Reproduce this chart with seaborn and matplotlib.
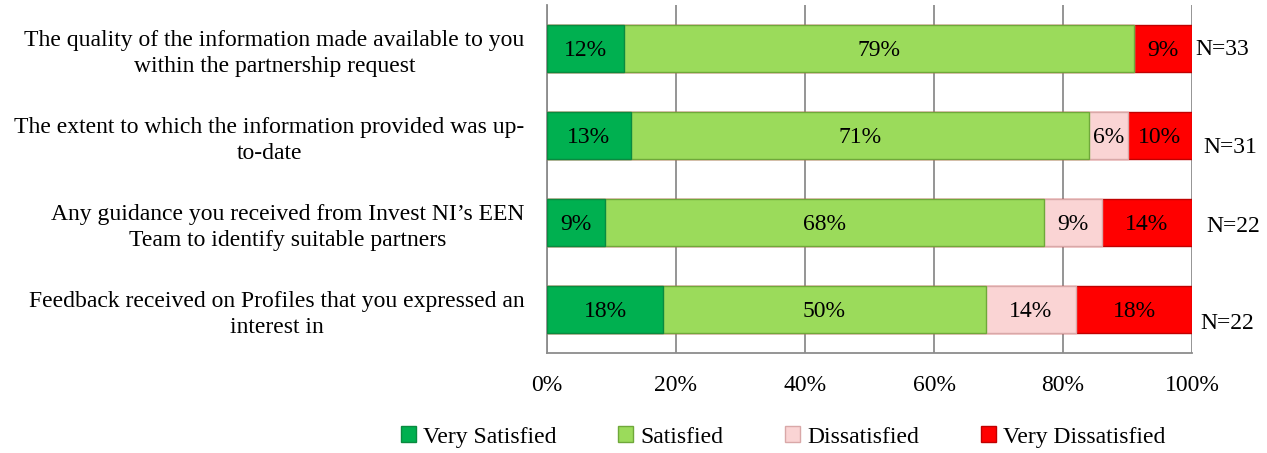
import matplotlib
matplotlib.use('Agg')
import matplotlib.pyplot as plt
import numpy as np
import pandas as pd
import seaborn as sns

# data
items = ['The quality of the information made available to you\nwithin the partnership request',
         'The extent to which the information provided was up-\nto-date',
         'Any guidance you received from Invest NI\u2019s EEN\nTeam to identify suitable partners',
         'Feedback received on Profiles that you expressed an\ninterest in']
series = ['Very Satisfied', 'Satisfied', 'Dissatisfied', 'Very Dissatisfied']
very_satisfied = [12, 13, 9, 18]
satisfied = [79, 71, 68, 50]
dissatisfied = [0, 6, 9, 14]
very_dissatisfied = [9, 10, 14, 18]
n_resp = [33, 31, 22, 22]
xticks = [0, 20, 40, 60, 80, 100]

colors = ['#00B050', '#9BDB5B', '#FAD4D4', '#FF0000']
edges = ['#0A8A40', '#6FA83A', '#D9A8A8', '#C00000']

sns.set_theme(style='white')
plt.rcParams['font.family'] = ['Liberation Serif', 'DejaVu Serif']
plt.rcParams['text.color'] = 'black'
plt.rcParams['xtick.color'] = 'black'
plt.rcParams['ytick.color'] = 'black'

df = pd.DataFrame({'item': items,
                   'Very Satisfied': very_satisfied,
                   'Satisfied': satisfied,
                   'Dissatisfied': dissatisfied,
                   'Very Dissatisfied': very_dissatisfied})
cum = df[series].cumsum(axis=1)

fig = plt.figure(figsize=(12.67, 4.53), dpi=100)
ax = fig.add_axes([0.4317, 0.2208, 0.5092, 0.7682])

# stacked bars: draw cumulative totals from the right, each covering the previous
for s, c, e in reversed(list(zip(series, colors, edges))):
    sns.barplot(x=cum[s], y=df['item'], orient='h', color=c, width=0.55,
                edgecolor=e, linewidth=1.0, saturation=1, ax=ax, zorder=3)

fs = 17
# value labels in the middle of each segment
for i in range(len(items)):
    left = 0
    for s in series:
        v = df[s].iloc[i]
        if v > 0:
            ax.text(left + v / 2, i, f'{v}%', ha='center', va='center_baseline',
                    fontsize=fs, color='black', zorder=5)
        left += v

# N= annotations right of the bars
n_offsets = [(2, 1), (8, -7), (10, -1), (6, -8)]
for i, n in enumerate(n_resp):
    ax.annotate(f'N={n}', xy=(100, i), xytext=n_offsets[i], textcoords='offset points',
                ha='left', va='center_baseline', fontsize=fs, annotation_clip=False)

ax.set_xlim(0, 100)
ax.set_ylim(3.5, -0.5)
ax.set_xticks(xticks)
ax.set_xticklabels([f'{t}%' for t in xticks], fontsize=fs)
ax.tick_params(axis='x', pad=16, length=0)
ax.tick_params(axis='y', pad=16, length=0, labelsize=fs)
for t in ax.get_yticklabels():
    t.set_multialignment('center')
    t.set_linespacing(1.3)
ax.set_xlabel('')
ax.set_ylabel('')
ax.grid(axis='x', color='#8C8C8C', linewidth=1.3, zorder=0)
ax.set_axisbelow(True)
for side in ['top', 'right']:
    ax.spines[side].set_visible(False)
for side in ['left', 'bottom']:
    ax.spines[side].set_color('#8C8C8C')
    ax.spines[side].set_linewidth(1.3)

handles = [plt.Rectangle((0, 0), 1, 1, facecolor=c, edgecolor=e) for c, e in zip(colors, edges)]
fig.legend(handles, series, loc='lower center', bbox_to_anchor=(0.618, -0.035), ncol=4,
           frameon=False, fontsize=fs, handlelength=0.65, handleheight=0.65,
           handletextpad=0.3, columnspacing=2.6)

fig.savefig('out.png', dpi=100)
